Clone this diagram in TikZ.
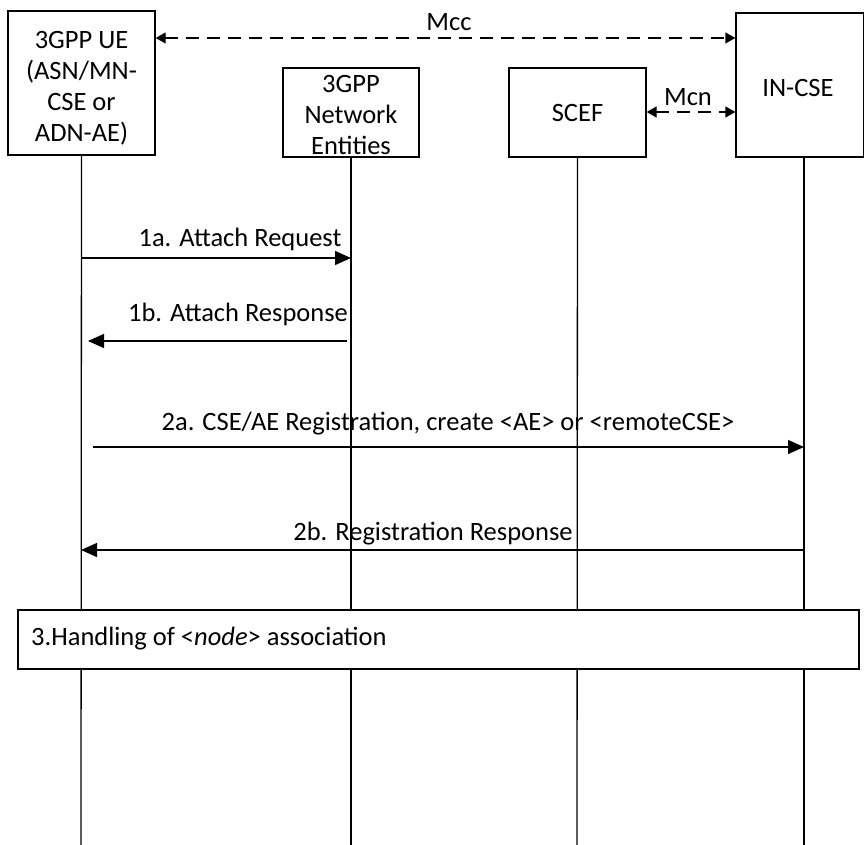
\documentclass[tikz,border=0pt]{standalone}
\usepackage{fontspec}
\setmainfont{Carlito}
\usetikzlibrary{arrows.meta}
\begin{document}
\begin{tikzpicture}[x=1pt,y=-1pt,
  ent/.style={draw,line width=1.3pt,align=center,inner sep=0pt,font=\fontsize{26.5}{31}\selectfont},
  etxt/.style={align=center,inner sep=0pt,font=\fontsize{26.5}{31}\selectfont},
  life/.style={line width=1.3pt},
  msg/.style={line width=1.3pt,-{Triangle[length=16pt,width=14pt]}},
  ifc/.style={line width=1.3pt,dash pattern=on 13pt off 8pt,{Triangle[length=10pt,width=11pt]}-{Triangle[length=10pt,width=11pt]}},
  lbl/.style={font=\fontsize{26.5}{30}\selectfont,anchor=base,inner sep=0pt}]
\useasboundingbox (0,0) rectangle (864,845);
% entities
\node[ent,minimum width=147pt,minimum height=144pt] (ue) at (81.5,83) {};
\node[etxt] (uet) at (81.5,88) {3GPP UE\\(ASN/MN-\\CSE or\\ADN-AE)};
\node[ent,minimum width=136pt,minimum height=89pt] (ne) at (351,112.5) {};
\node[etxt] (net) at (351,114.5) {3GPP\\Network\\Entities};
\node[ent,minimum width=137pt,minimum height=89pt] (scef) at (577.5,112.5) {SCEF};
\node[ent,minimum width=128pt,minimum height=144pt] (in) at (800,85) {};
\node[etxt] (int) at (798,88) {IN-CSE};
% lifelines
\coordinate (ueE) at (81,845);
\coordinate (neE) at (351,845);
\coordinate (scE) at (577,845);
\coordinate (inE) at (804,845);
\coordinate (inS) at (804,157);
\draw[life] (ue.south) -- (ueE);
\draw[life] (ne.south) -- (neE);
\draw[life] (scef.south) -- (scE);
\draw[life] (inS) -- (inE);
% interfaces
\draw[ifc] (ue.east |- 0,38) -- (in.west |- 0,38);
\node[lbl] (mcc) at (449,31) {Mcc};
\draw[ifc] (scef.east |- 0,112) -- (in.west |- 0,112);
\node[lbl] (mcn) at (688,106) {Mcn};
% messages
\coordinate (m1s) at (81,258); \coordinate (m1e) at (351,258);
\draw[msg] (m1s) -- (m1e);
\node[lbl] (l1a) at (240,246) {1a. Attach Request};
\coordinate (m2s) at (347,341); \coordinate (m2e) at (88,341);
\draw[msg] (m2s) -- (m2e);
\node[lbl] (l1b) at (238,321) {1b. Attach Response};
\coordinate (m3s) at (93,447); \coordinate (m3e) at (804,447);
\draw[msg] (m3s) -- (m3e);
\node[lbl] (l2a) at (448,430) {2a. CSE/AE Registration, create <AE> or <remoteCSE>};
\coordinate (m4s) at (804,550); \coordinate (m4e) at (81,550);
\draw[msg] (m4s) -- (m4e);
\node[lbl] (l2b) at (433,540) {2b. Registration Response};
% step 3 box
\node[draw,line width=1.3pt,fill=white,minimum width=841pt,minimum height=59pt,inner sep=0pt] (s3) at (438.5,639.5) {};
\node[anchor=west,font=\fontsize{26.5}{30}\selectfont,inner sep=0pt] (s3t) at (31,639) {3.Handling of <\textit{node}> association};
\end{tikzpicture}
\end{document}
